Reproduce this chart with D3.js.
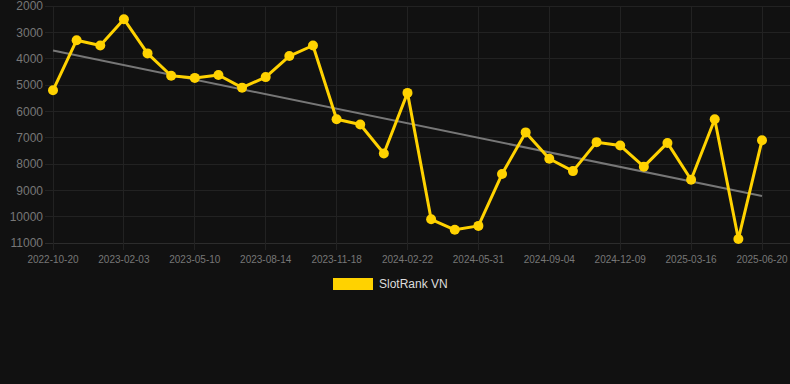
<!DOCTYPE html>
<html><head><meta charset="utf-8">
<script src="https://cdn.jsdelivr.net/npm/d3@7"></script>
<style>html,body{margin:0;padding:0;background:#111111;}svg{display:block;}</style>
</head><body>
<svg id="c" width="790" height="384"></svg>
<script>
const categories = ["2022-10-20","2022-11-25","2022-12-30","2023-02-03","2023-03-08","2023-04-08","2023-05-10","2023-06-11","2023-07-13","2023-08-14","2023-09-15","2023-10-17","2023-11-18","2023-12-20","2024-01-21","2024-02-22","2024-03-26","2024-04-28","2024-05-31","2024-07-02","2024-08-03","2024-09-04","2024-10-06","2024-11-07","2024-12-09","2025-01-10","2025-02-11","2025-03-16","2025-04-17","2025-05-19","2025-06-20"];
const rankValues = [5200,3300,3500,2500,3800,4650,4730,4620,5100,4700,3900,3500,6300,6500,7600,5300,10100,10500,10350,8380,6800,7800,8270,7170,7300,8100,7200,8600,6300,10850,7100];
const yTicks = [2000,3000,4000,5000,6000,7000,8000,9000,10000,11000];
const seriesName = "SlotRank VN";

const svg = d3.select("#c");
const x = d3.scalePoint().domain(categories).range([53, 762]);
const y = d3.scaleLinear().domain([2000, 11000]).range([6, 243]);
const font = "Liberation Sans, Arial, Helvetica, sans-serif";

svg.append("rect").attr("width",790).attr("height",384).attr("fill","#111111");

// horizontal grid
svg.append("g").selectAll("line").data(yTicks).join("line")
  .attr("x1",45).attr("x2",790).attr("y1",d=>y(d)).attr("y2",d=>y(d))
  .attr("stroke",d=>d===11000?"#2c2c2c":"#222222").attr("stroke-width",1).attr("shape-rendering","crispEdges");

// vertical grid at labeled categories
const labeled = categories.filter((d,i)=>i%3===0);
svg.append("g").selectAll("line").data(labeled).join("line")
  .attr("x1",d=>x(d)).attr("x2",d=>x(d)).attr("y1",y(2000)).attr("y2",250)
  .attr("stroke","#222222").attr("stroke-width",1).attr("shape-rendering","crispEdges");

// y labels
svg.append("g").selectAll("text").data(yTicks).join("text")
  .attr("x",43).attr("y",d=>y(d)).attr("dy","0.35em").attr("text-anchor","end")
  .attr("font-family",font).attr("font-size",12).attr("fill","#777777").text(d=>d);

// x labels
svg.append("g").selectAll("text").data(labeled).join("text")
  .attr("x",d=>x(d)).attr("y",259).attr("dy","0.35em").attr("text-anchor","middle")
  .attr("font-family",font).attr("font-size",10).attr("fill","#777777").text(d=>d);

// trend line (least squares)
const n = rankValues.length;
const mx = d3.mean(rankValues,(d,i)=>i), my = d3.mean(rankValues);
let sxy=0, sxx=0;
rankValues.forEach((v,i)=>{sxy+=(i-mx)*(v-my); sxx+=(i-mx)*(i-mx);});
const slope = sxy/sxx, icpt = my - slope*mx;
svg.append("line")
  .attr("x1",x(categories[0])).attr("y1",y(icpt))
  .attr("x2",x(categories[n-1])).attr("y2",y(icpt+slope*(n-1)))
  .attr("stroke","#777777").attr("stroke-width",2);

// series line
const data = categories.map((c,i)=>({c,v:rankValues[i]}));
svg.append("path").datum(data)
  .attr("d",d3.line().x(d=>x(d.c)).y(d=>y(d.v)))
  .attr("fill","none").attr("stroke","#FFD200").attr("stroke-width",3).attr("stroke-linejoin","round");
svg.append("g").selectAll("circle").data(data).join("circle")
  .attr("cx",d=>x(d.c)).attr("cy",d=>y(d.v)).attr("r",5).attr("fill","#FFD200");

// legend
svg.append("rect").attr("x",333).attr("y",278).attr("width",40).attr("height",12).attr("fill","#FFD200");
svg.append("text").attr("x",379).attr("y",284).attr("dy","0.35em")
  .attr("font-family",font).attr("font-size",12).attr("fill","#dddddd").text(seriesName);
</script>
</body></html>
